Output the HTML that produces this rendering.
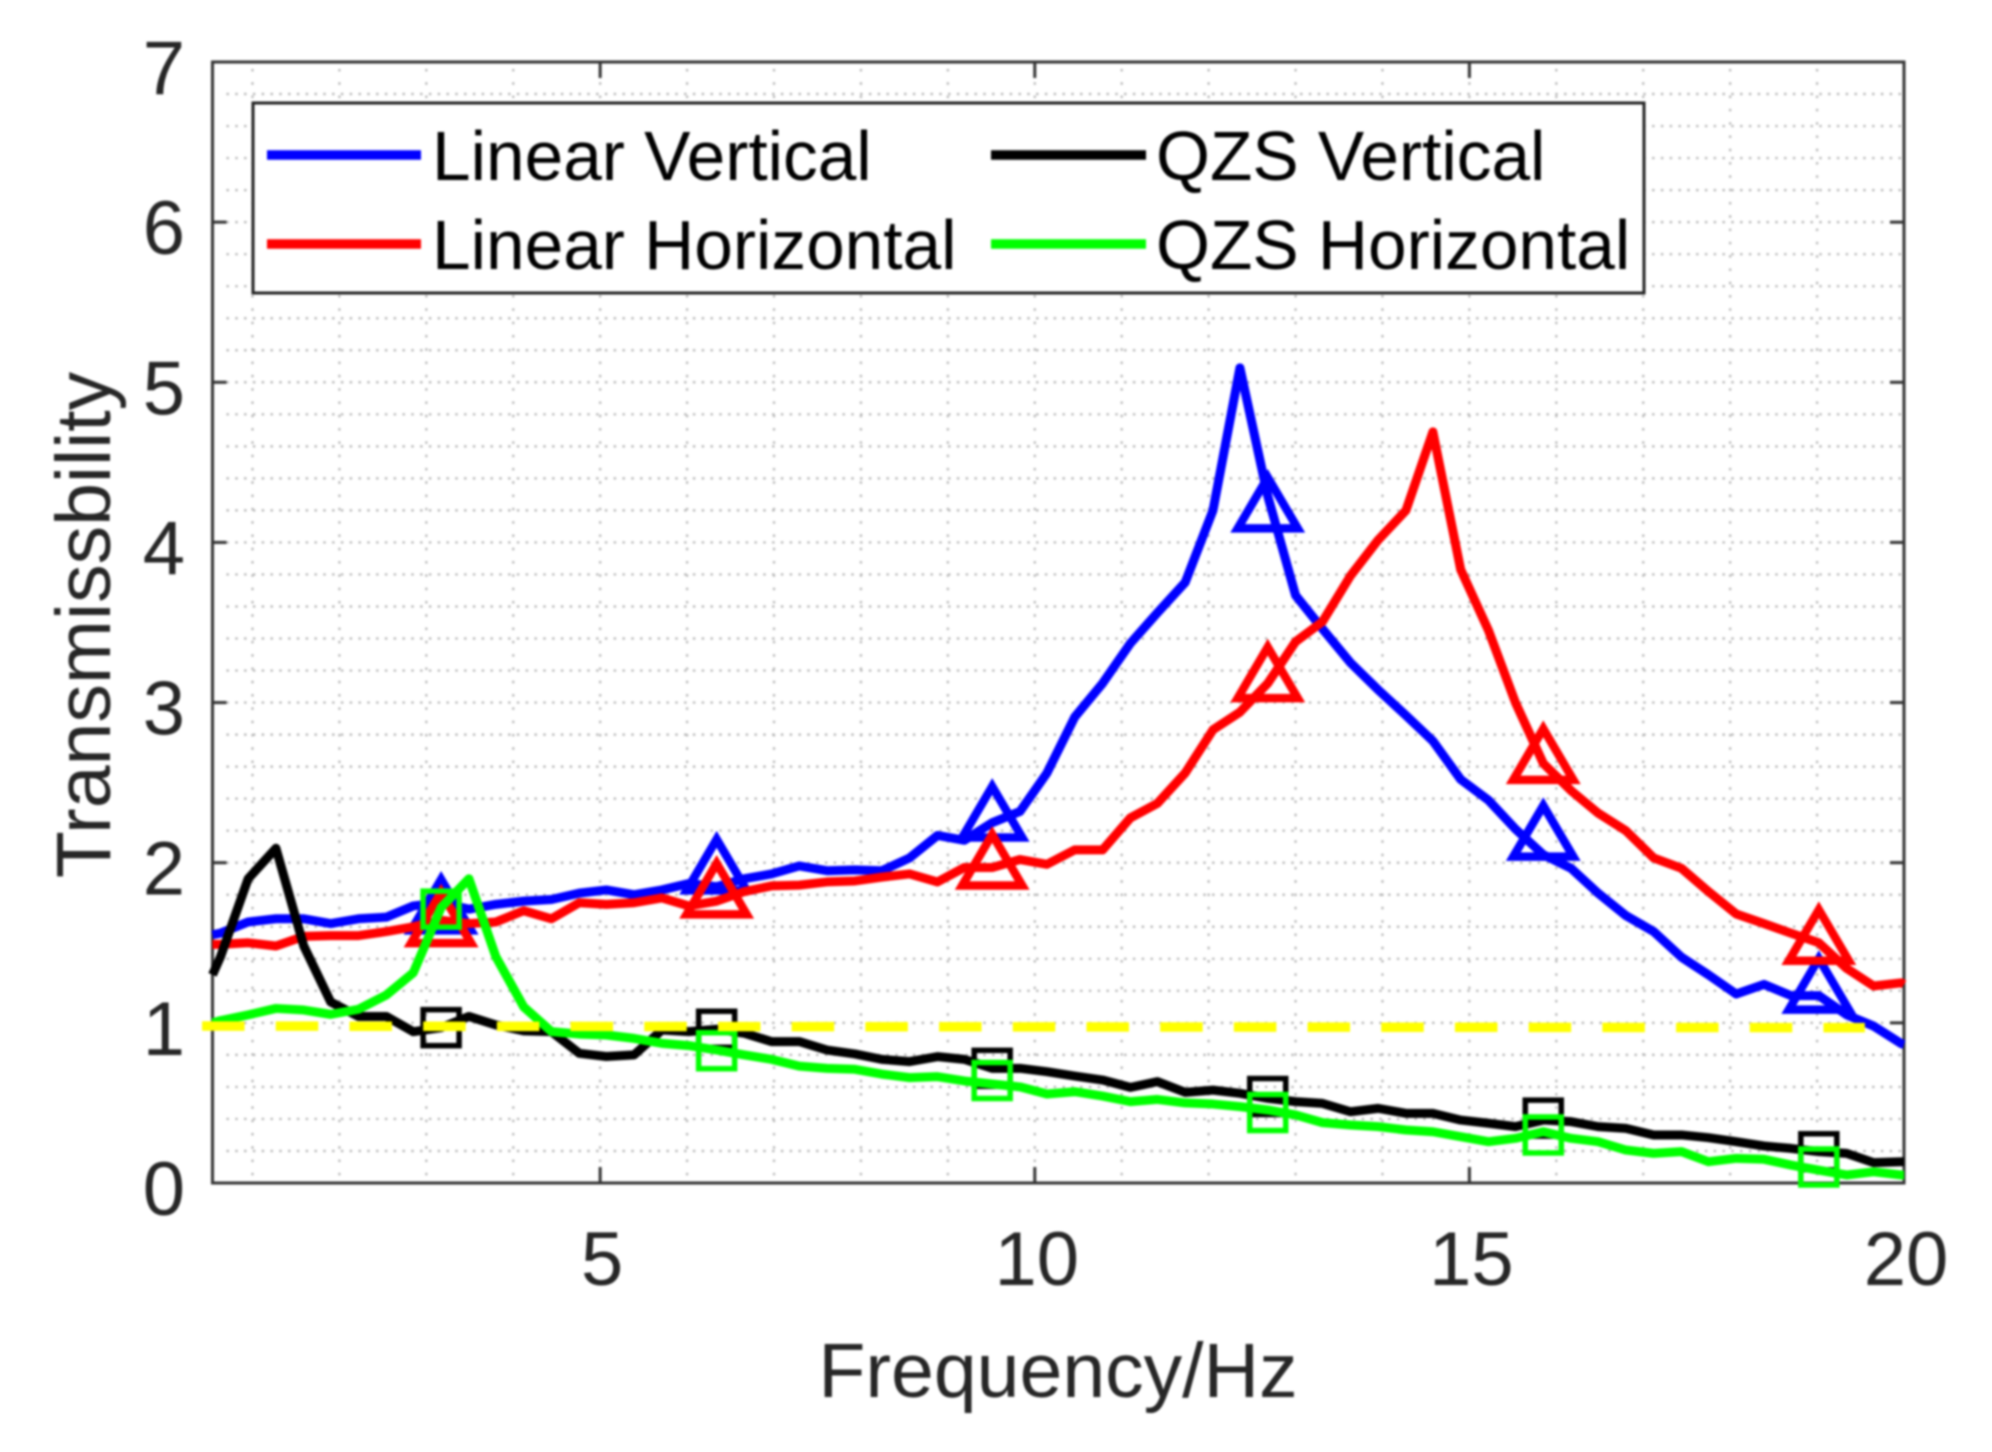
<!DOCTYPE html>
<html lang="en">
<head>
<meta charset="utf-8">
<title>Transmissibility vs Frequency</title>
<style>
html,body{margin:0;padding:0;background:#fff;}
body{width:1992px;height:1452px;overflow:hidden;}
svg{display:block;filter:blur(1px);}
text{font-family:"Liberation Sans",Arial,sans-serif;}
</style>
</head>
<body>
<svg id="chart" xmlns="http://www.w3.org/2000/svg" width="1992" height="1452" viewBox="0 0 1992 1452">
  <rect x="0" y="0" width="1992" height="1452" fill="#fff"/>
  <g id="grid"></g>
  <g id="plot-frame"></g>
  <g id="legend">
    <rect x="253" y="103" width="1391" height="190" fill="#fff" stroke="#222" stroke-width="3"/>
    <line x1="267" x2="421" y1="155" y2="155" stroke="#0000ff" stroke-width="9.5"/>
    <text x="432" y="180" font-size="69.4" fill="#000">Linear Vertical</text>
    <line x1="267" x2="421" y1="244" y2="244" stroke="#ff0000" stroke-width="9.5"/>
    <text x="432" y="269" font-size="69.4" fill="#000">Linear Horizontal</text>
    <line x1="991" x2="1146" y1="155" y2="155" stroke="#000" stroke-width="9.5"/>
    <text x="1156" y="180" font-size="69.4" fill="#000">QZS Vertical</text>
    <line x1="991" x2="1146" y1="244" y2="244" stroke="#00ff00" stroke-width="9.5"/>
    <text x="1156" y="269" font-size="69.4" fill="#000">QZS Horizontal</text>
  </g>
  <g id="series"></g>
  <g id="tick-labels"></g>
  <text x="1058" y="1397" font-size="77" fill="#262626" text-anchor="middle">Frequency/Hz</text>
  <text transform="translate(110 625) rotate(-90)" font-size="77" fill="#262626" text-anchor="middle">Transmissbility</text>
</svg>
<script>
const frequency = [0.54,0.63,0.95,1.27,1.59,1.90,2.22,2.54,2.85,3.17,
  3.49,3.80,4.12,4.44,4.76,5.07,5.39,5.71,6.02,6.34,
  6.66,6.97,7.29,7.61,7.93,8.24,8.56,8.88,9.19,9.51,
  9.83,10.14,10.46,10.78,11.10,11.41,11.73,12.05,12.36,12.68,
  13.00,13.31,13.63,13.95,14.27,14.58,14.90,15.22,15.53,15.85,
  16.17,16.48,16.80,17.12,17.44,17.75,18.07,18.39,18.70,19.02,
  19.34,19.65,19.97,20.00];
const linearVertical = [1.55,1.56,1.63,1.65,1.65,1.62,1.65,1.66,1.73,1.75,
  1.71,1.74,1.76,1.77,1.81,1.83,1.80,1.83,1.87,1.85,
  1.90,1.93,1.98,1.95,1.955,1.95,2.03,2.17,2.14,2.25,
  2.32,2.56,2.91,3.12,3.37,3.56,3.75,4.20,5.09,4.29,
  3.67,3.46,3.25,3.08,2.92,2.76,2.52,2.39,2.21,2.05,
  1.965,1.81,1.67,1.57,1.41,1.30,1.18,1.24,1.17,1.17,
  1.05,0.98,0.87,0.865];
const linearHorizontal = [1.49,1.49,1.50,1.48,1.54,1.545,1.545,1.57,1.60,1.64,
  1.62,1.63,1.70,1.65,1.75,1.74,1.75,1.78,1.73,1.76,
  1.82,1.855,1.86,1.88,1.886,1.91,1.93,1.88,1.97,1.97,
  2.02,1.99,2.08,2.08,2.28,2.37,2.56,2.83,2.94,3.12,
  3.38,3.505,3.79,4.015,4.20,4.69,3.83,3.45,3.00,2.62,
  2.45,2.31,2.20,2.03,1.965,1.82,1.68,1.62,1.56,1.50,
  1.34,1.23,1.25,1.24];
const qzsVertical = [1.30,1.41,1.90,2.09,1.48,1.13,1.04,1.04,0.945,0.97,
  1.04,0.987,0.95,0.945,0.81,0.79,0.80,0.955,0.945,0.96,
  0.935,0.883,0.883,0.83,0.806,0.772,0.758,0.789,0.772,0.716,
  0.716,0.695,0.668,0.643,0.597,0.633,0.566,0.58,0.56,0.529,
  0.508,0.497,0.445,0.466,0.435,0.435,0.393,0.373,0.352,0.393,
  0.383,0.352,0.341,0.30,0.30,0.283,0.258,0.231,0.216,0.196,
  0.185,0.127,0.133,0.133];
const qzsHorizontal = [1.00,1.014,1.05,1.09,1.08,1.053,1.085,1.174,1.313,1.72,
  1.90,1.413,1.10,0.945,0.93,0.924,0.903,0.872,0.858,0.83,
  0.80,0.772,0.73,0.716,0.71,0.68,0.658,0.664,0.637,0.618,
  0.60,0.556,0.57,0.543,0.508,0.522,0.50,0.493,0.477,0.456,
  0.425,0.377,0.362,0.352,0.331,0.32,0.289,0.258,0.279,0.32,
  0.279,0.258,0.206,0.185,0.196,0.133,0.154,0.148,0.112,0.08,
  0.05,0.07,0.05,0.05];
const markerFrequency = [3.17,6.34,9.51,12.68,15.85,19.02];
const linearVerticalMarkers = [1.74,1.99,2.32,4.25,2.20,1.245];
const linearHorizontalMarkers = [1.66,1.84,2.02,3.19,2.68,1.55];
const qzsVerticalMarkers = [0.97,0.96,0.716,0.54,0.405,0.195];
const qzsHorizontalMarkers = [1.71,0.826,0.64,0.44,0.30,0.10];
const referenceFrequency = [0.42,19.55];
const referenceLevel = [0.98,0.97];
const xTicks = [5,10,15,20];
const yTicks = [0,1,2,3,4,5,6,7];
const xMinorGrid = [1,2,3,4,5,6,7,8,9,10,11,12,13,14,15,16,17,18,19];
const yMinorGrid = [0.2,0.4,0.6,0.8,1,1.2,1.4,1.6,1.8,2,2.2,2.4,2.6,2.8,3,3.2,3.4,3.6,3.8,4,4.2,4.4,4.6,4.8,5,5.2,5.4,5.6,5.8,6,6.2,6.4,6.6,6.8];

const NS = 'http://www.w3.org/2000/svg';
const LEFT = 212.5, RIGHT = 1904, TOP = 62, BOTTOM = 1183;
const xFrom = 0.54, xTo = 20, yFrom = 0, yTo = 7;
function sx(f){ return LEFT + (f - xFrom) / (xTo - xFrom) * (RIGHT - LEFT); }
function sy(v){ return BOTTOM - (v - yFrom) / (yTo - yFrom) * (BOTTOM - TOP); }
function mk(tag, parent){ const el = document.createElementNS(NS, tag); parent.appendChild(el); return el; }
function set(el, props){ for (const k in props) el.setAttribute(k, props[k]); return el; }

const gridG = document.getElementById('grid');
xMinorGrid.forEach(function(f){
  const l = mk('line', gridG);
  set(l, {x1:sx(f), x2:sx(f), y1:TOP+7, y2:BOTTOM, stroke:'#b4b4b4', 'stroke-width':2.2, 'stroke-dasharray':'2.4 10.9'});
  
  
});
yMinorGrid.forEach(function(v){
  const l = mk('line', gridG);
  set(l, {x1:LEFT+14, x2:RIGHT, y1:sy(v), y2:sy(v), stroke:'#b4b4b4', 'stroke-width':2.2, 'stroke-dasharray':'2.4 6.4'});
  
  
});

const frameG = document.getElementById('plot-frame');
const frame = mk('rect', frameG);
set(frame, {x:LEFT, y:TOP, width:RIGHT-LEFT, height:BOTTOM-TOP, fill:'none', stroke:'#333', 'stroke-width':3});


xTicks.forEach(function(t){
  [[BOTTOM, BOTTOM-16],[TOP, TOP+16]].forEach(function(p){
    const l = mk('line', frameG);
    set(l, {x1:sx(t), x2:sx(t), y1:p[0], y2:p[1], stroke:'#333', 'stroke-width':3});
    
    
  });
});
yTicks.forEach(function(t){
  [[LEFT, LEFT+14],[RIGHT, RIGHT-14]].forEach(function(p){
    const l = mk('line', frameG);
    set(l, {x1:p[0], x2:p[1], y1:sy(t), y2:sy(t), stroke:'#333', 'stroke-width':3});
    
    
  });
});

const labelsG = document.getElementById('tick-labels');
xTicks.forEach(function(t){
  const el = mk('text', labelsG);
  set(el, {x:sx(t)+2, y:BOTTOM+102, 'font-size':76, fill:'#262626', 'text-anchor':'middle'});
  el.textContent = String(t);
  
  
});
yTicks.forEach(function(t){
  const el = mk('text', labelsG);
  set(el, {x:185, y:sy(t)+32, 'font-size':76, fill:'#262626', 'text-anchor':'end'});
  el.textContent = String(t);
  
  
});

const seriesG = document.getElementById('series');
function drawLine(values, color, name){
  const p = mk('polyline', seriesG);
  set(p, {points:values.map(function(v,i){ return sx(frequency[i]) + ',' + sy(v); }).join(' '), fill:'none', stroke:color, 'stroke-width':9, 'stroke-linejoin':'round'});
  
  
}
function drawTriangles(values, color, name){
  values.forEach(function(v,i){
    const cx = sx(markerFrequency[i]), cy = sy(v);
    const p = mk('polygon', seriesG);
    set(p, {points:(cx-30)+','+(cy+26)+' '+(cx+30)+','+(cy+26)+' '+cx+','+(cy-25), fill:'none', stroke:color, 'stroke-width':8.5, 'stroke-linejoin':'miter', 'stroke-miterlimit':8});
    
    
  });
}
function drawSquares(values, color, name){
  values.forEach(function(v,i){
    const cx = sx(markerFrequency[i]), cy = sy(v);
    const r = mk('rect', seriesG);
    set(r, {x:cx-18, y:cy-18, width:36, height:36, fill:'none', stroke:color, 'stroke-width':5.5});
    
    
  });
}
drawLine(linearVertical, '#0000ff', 'line-linear-vertical');
drawTriangles(linearVerticalMarkers, '#0000ff', 'marker-linear-vertical');
drawLine(linearHorizontal, '#ff0000', 'line-linear-horizontal');
drawTriangles(linearHorizontalMarkers, '#ff0000', 'marker-linear-horizontal');
drawLine(qzsVertical, '#000000', 'line-qzs-vertical');
drawSquares(qzsVerticalMarkers, '#000000', 'marker-qzs-vertical');
drawLine(qzsHorizontal, '#00ff00', 'line-qzs-horizontal');
drawSquares(qzsHorizontalMarkers, '#00ff00', 'marker-qzs-horizontal');

const refLine = mk('line', seriesG);
set(refLine, {x1:sx(referenceFrequency[0]), x2:sx(referenceFrequency[1]), y1:sy(referenceLevel[0]), y2:sy(referenceLevel[1]), stroke:'#ffff00', 'stroke-width':9.5, 'stroke-dasharray':'42.5 31.2'});


</script>
</body>
</html>
